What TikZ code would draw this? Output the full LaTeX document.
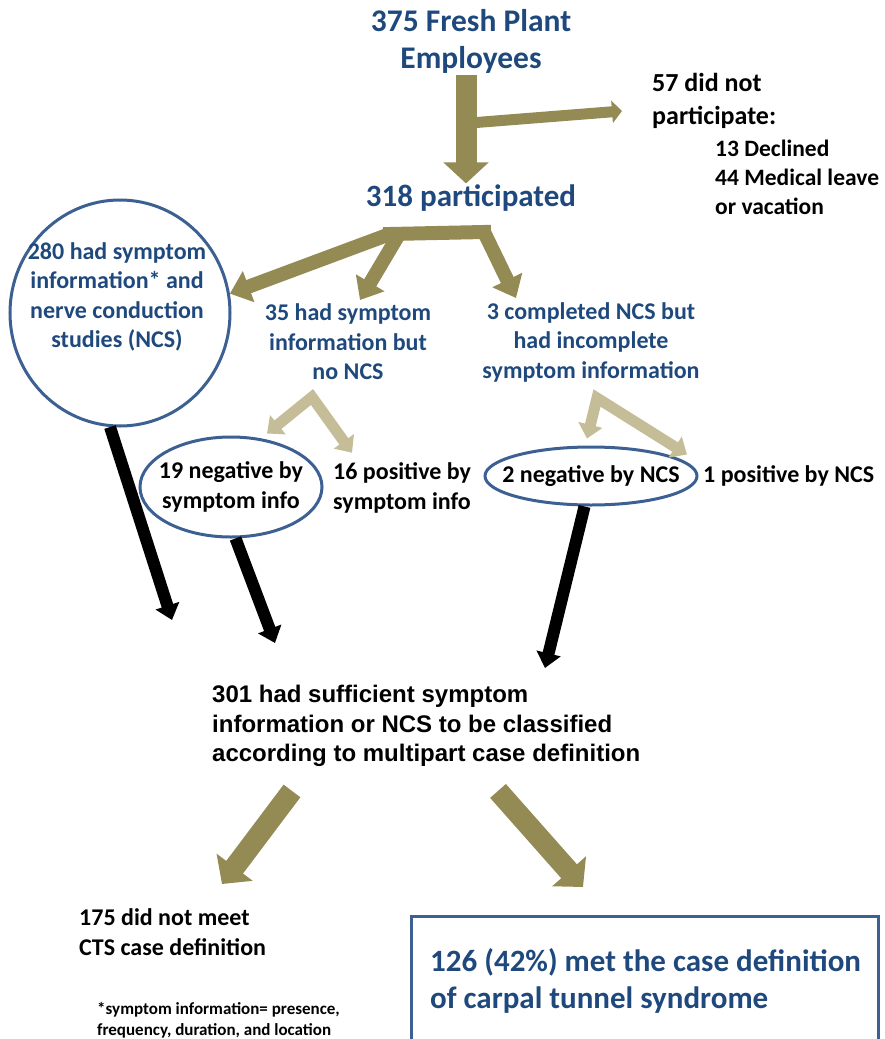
\documentclass[tikz,border=0pt]{standalone}
\usepackage{fontspec}
\setmainfont{Carlito}
\newfontfamily\arialfont{Liberation Sans}
\usetikzlibrary{positioning,shapes.geometric,calc,arrows.meta}
\definecolor{ctsblue}{RGB}{31,73,125}
\definecolor{ringblue}{RGB}{60,96,145}
\definecolor{flowolive}{RGB}{148,138,84}
\definecolor{flowpale}{RGB}{196,189,151}

\begin{document}
\begin{tikzpicture}[x=1pt,y=-1pt]
    \tikzset{
        bluetxt/.style={text=ctsblue, font=\bfseries\fontsize{24}{29.5}\selectfont, align=center, inner sep=0pt},
        blacktxt/.style={text=black, font=\bfseries\fontsize{24}{29.5}\selectfont, align=left, inner sep=0pt},
        ring/.style={draw=ringblue, line width=3pt, ellipse, inner sep=0pt},
        bigolive/.style={draw=flowolive, line width=21pt, -{Triangle[length=21pt,width=44pt]}},
        midolive/.style={draw=flowolive, line width=14pt, -{Triangle[length=20pt,width=32pt]}},
        thinolive/.style={draw=flowolive, line width=11pt, -{Triangle[length=10pt,width=22pt]}},
        palearrow/.style={draw=flowpale, line width=11pt, {Triangle[length=14pt,width=24pt]}-{Triangle[length=14pt,width=24pt]}},
        blackarrow/.style={draw=black, line width=12pt, -{Triangle[length=15pt,width=24pt]}}
    }
    \useasboundingbox (0,0) rectangle (884,1039);
    \clip (0,0) rectangle (884,1039);
    % Top of the flow
    \node[bluetxt, font=\bfseries\fontsize{31.5}{37}\selectfont, inner sep=2pt] (title) at (471,41) {375 Fresh Plant\\Employees};
    \node[bluetxt, font=\bfseries\fontsize{31}{37}\selectfont, inner sep=1pt] (part) at (471,198) {318 participated};
    \node[blacktxt, font=\bfseries\fontsize{26}{33}\selectfont, anchor=west] (no57) at (652,101) {57 did not\\participate:};
    \node[blacktxt, font=\bfseries\fontsize{23.5}{29}\selectfont, anchor=west] (why57) at (715,177) {13 Declined\\44 Medical leave\\or vacation};
    % Three groups
    \node[ring, minimum width=220pt, minimum height=226pt] (c280) at (120,313) {};
    \node[bluetxt] (c280txt) at (117,297) {280 had symptom\\information* and\\nerve conduction\\studies (NCS)};
    \node[bluetxt] (n35) at (348,342) {35 had symptom\\information but\\no NCS};
    \node[bluetxt] (n3) at (591,342) {3 completed NCS but\\had incomplete\\symptom information};
    % Split by symptom info / NCS
    \node[ring, minimum width=182pt, minimum height=100pt,
          label={[blacktxt, align=center]center:{19 negative by\\symptom info}}] (neg19) at (231,487) {};
    \node[blacktxt, anchor=west] (pos16) at (333,488) {16 positive by\\symptom info};
    \node[ring, minimum width=212pt, minimum height=58pt,
          label={[blacktxt]center:2 negative by NCS}] (neg2) at (591,476) {};
    \node[blacktxt, anchor=west] (pos1) at (703,476) {1 positive by NCS};
    % Classified
    \node[blacktxt, font=\arialfont\bfseries\fontsize{24}{29.5}\selectfont, anchor=west] (sum301) at (212,726)
        {301 had sufficient symptom\\information or NCS to be classified\\according to multipart case definition};
    \node[blacktxt, font=\bfseries\fontsize{24}{30.5}\selectfont, anchor=west] (not175) at (79,932) {175 did not meet\\CTS case definition};
    \node[blacktxt, font=\bfseries\fontsize{17}{21}\selectfont, anchor=west] (note) at (97,1020)
        {*symptom information= presence,\\frequency, duration, and location};
    \node[draw=ringblue, line width=3pt, minimum width=467pt, minimum height=160pt, anchor=north west, inner sep=0pt] (metbox) at (410,915) {};
    \node[bluetxt, font=\bfseries\fontsize{31}{37}\selectfont, align=left, anchor=west] (met126) at (430,981)
        {126 (42\%) met the case definition\\of carpal tunnel syndrome};
    % Fork points and free ends
    \coordinate (fork57) at (470,123);
    \coordinate (end57) at (622,111);
    \coordinate (j1) at (390,234);
    \coordinate (j2) at (484,232);
    \coordinate (to35) at (360,300);
    \coordinate (to3) at (516,298);
    \coordinate (fork35) at (312,397);
    \coordinate (fork3) at (597,398);
    \coordinate (in280) at (172,620);
    \coordinate (in19) at (275,643);
    \coordinate (in2) at (545,668);
    \coordinate (from301a) at ($(sum301.south west)+(80,24)$);
    \coordinate (from301b) at ($(sum301.south west)+(286,24)$);
    \coordinate (to175) at (222,884);
    \coordinate (to126) at (583,887);
    % Arrows
    \draw[bigolive] ($(title.south)+(-5,0)$) -- ($(part.north)+(-5,0)$);
    \draw[thinolive] (fork57) -- (end57);
    \draw[draw=flowolive, line width=14pt, line cap=rect] (j1) -- (j2);
    \draw[midolive] (j1) -- (c280.10);
    \draw[midolive] ($(j1)+(8,2)$) -- (to35);
    \draw[midolive] (j2) -- (to3);
    \draw[palearrow] ($(neg19.north)+(36,-2)$) -- (fork35) -- ($(pos16.north west)+(19,-10)$);
    \draw[palearrow] ($(neg2.north)+(-4,-7)$) -- (fork3) -- ($(pos1.north west)+(-16,-11)$);
    \draw[blackarrow] (c280.265) -- (in280);
    \draw[blackarrow] (neg19.-85) -- (in19);
    \draw[blackarrow] (neg2.258) -- (in2);
    \draw[bigolive] (from301a) -- (to175);
    \draw[bigolive] (from301b) -- (to126);
\end{tikzpicture}
\end{document}
